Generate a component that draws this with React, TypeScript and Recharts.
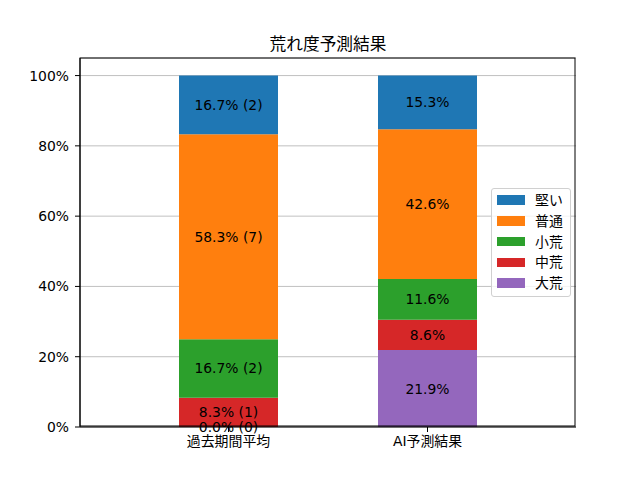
import React from 'react';
import { BarChart, Bar, XAxis, YAxis, CartesianGrid, LabelList, Legend } from 'recharts';

const categories = ['過去期間平均', 'AI予測結果'];
const seriesNames = ['大荒', '中荒', '小荒', '普通', '堅い'];
const seriesColors = ['#9467bd', '#d62728', '#2ca02c', '#ff7f0e', '#1f77b4'];
const pastValues = [0.0, 8.3, 16.7, 58.3, 16.7];
const pastCounts = [0, 1, 2, 7, 2];
const aiValues = [21.9, 8.6, 11.6, 42.6, 15.3];
const yTicks = [0, 20, 40, 60, 80, 100];

const FONT = "'DejaVu Sans', 'Noto Sans CJK JP', sans-serif";

const data = categories.map((name, ci) => {
  const row: Record<string, any> = { name };
  seriesNames.forEach((s, si) => {
    if (ci === 0) {
      row[s] = pastValues[si];
      row[s + '_label'] = `${pastValues[si].toFixed(1)}% (${pastCounts[si]})`;
    } else {
      row[s] = aiValues[si];
      row[s + '_label'] = `${aiValues[si].toFixed(1)}%`;
    }
  });
  return row;
});

const renderLabel = (props: any) => {
  const { x, y, width, height, value } = props;
  return (
    <text
      x={Number(x) + Number(width) / 2}
      y={Number(y) + Number(height) / 2}
      textAnchor="middle"
      dominantBaseline="central"
      fontSize={13.9}
      fontFamily={FONT}
      fill="#000"
    >
      {value}
    </text>
  );
};

const LegendBox = () => {
  const items = [...seriesNames].map((n, i) => ({ n, c: seriesColors[i] })).reverse();
  return (
    <div
      style={{
        width: 80,
        height: 109,
        border: '1px solid #d0d0d0',
        borderRadius: 3,
        background: 'rgba(255,255,255,0.8)',
        boxSizing: 'border-box',
        position: 'relative',
        fontFamily: FONT,
        fontSize: 13.9,
      }}
    >
      {items.map((it, i) => (
        <div key={it.n} style={{ position: 'absolute', left: 5, top: 1 + i * 20.8, height: 20, display: 'flex', alignItems: 'center' }}>
          <div style={{ width: 28, height: 9.7, background: it.c }} />
          <span style={{ marginLeft: 10, color: '#000', lineHeight: '20px' }}>{it.n}</span>
        </div>
      ))}
    </div>
  );
};

export default function App() {
  return (
    <div style={{ position: 'absolute', left: 0, top: 0, width: 640, height: 480, background: '#fff' }}>
      <div
        style={{
          position: 'absolute',
          left: 80,
          width: 496,
          top: 33,
          textAlign: 'center',
          fontFamily: FONT,
          fontSize: 16.7,
          color: '#000',
          lineHeight: '22px',
        }}
      >
        荒れ度予測結果
      </div>
      <BarChart
        width={640}
        height={480}
        data={data}
        margin={{ top: 58, right: 64, bottom: 23, left: 0 }}
        barCategoryGap={0}
      >
        <CartesianGrid vertical={false} horizontal={true} stroke="#b0b0b0" strokeWidth={0.8} />
        <XAxis
          dataKey="name"
          padding={{ left: 49, right: 49 }}
          height={30}
          tickSize={5}
          tickMargin={4}
          axisLine={{ stroke: '#000', strokeWidth: 1 }}
          tickLine={{ stroke: '#000' }}
          tick={{ fontSize: 13.9, fontFamily: FONT, fill: '#000' }}
          interval={0}
        />
        <YAxis
          domain={[0, 105]}
          ticks={yTicks}
          width={80}
          tickSize={5}
          tickMargin={6}
          tickFormatter={(v: number) => `${v}%`}
          axisLine={{ stroke: '#000', strokeWidth: 1 }}
          tickLine={{ stroke: '#000' }}
          tick={{ fontSize: 13.9, fontFamily: FONT, fill: '#000' }}
          allowDataOverflow
        />
        <Legend
          layout="horizontal"
          verticalAlign="middle"
          align="center"
          wrapperStyle={{ position: 'absolute', left: 491, top: 188, width: 80, height: 109 }}
          content={() => <LegendBox />}
        />
        {seriesNames.map((s, i) => (
          <Bar
            key={s}
            dataKey={s}
            stackId="a"
            fill={seriesColors[i]}
            barSize={99}
            minPointSize={(v: number) => (v === 0 ? 0.01 : 0)}
            isAnimationActive={false}
          >
            <LabelList dataKey={s + '_label'} content={renderLabel} />
          </Bar>
        ))}
      </BarChart>
      <div
        style={{
          position: 'absolute',
          left: 80,
          top: 58,
          width: 496,
          height: 369,
          border: '1px solid #000',
          boxSizing: 'border-box',
          pointerEvents: 'none',
          transform: 'translate(-0.5px, -0.5px)',
        }}
      />
    </div>
  );
}
